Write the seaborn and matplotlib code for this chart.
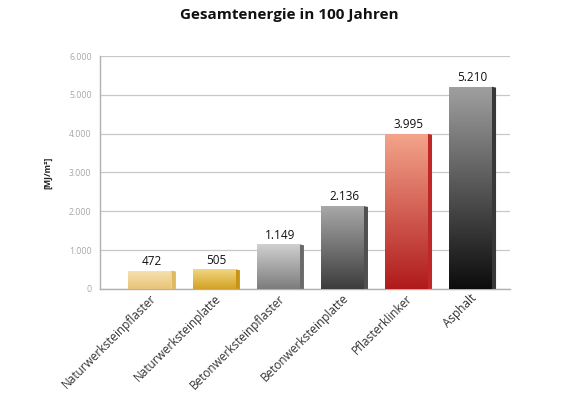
import numpy as np
import pandas as pd
import matplotlib
matplotlib.use("Agg")
import matplotlib.pyplot as plt
import matplotlib.colors as mcolors
from matplotlib.patches import Polygon
import seaborn as sns

categories = ["Naturwerksteinpflaster", "Naturwerksteinplatte", "Betonwerksteinpflaster",
              "Betonwerksteinplatte", "Pflasterklinker", "Asphalt"]
values = [472, 505, 1149, 2136, 3995, 5210]
value_labels = ["472", "505", "1.149", "2.136", "3.995", "5.210"]
y_ticks = [0, 1000, 2000, 3000, 4000, 5000, 6000]
y_tick_labels = ["0", "1.000", "2.000", "3.000", "4.000", "5.000", "6.000"]
top_colors = ["#f7e2b0", "#f2d680", "#d0d0d0", "#a8a8a8", "#f4a58c", "#a0a0a0"]
bottom_colors = ["#e8c378", "#d2a224", "#7c7c7c", "#3c3c3c", "#b01a1a", "#0c0c0c"]
side_colors = ["#e0b860", "#c89418", "#6a6a6a", "#505050", "#c02828", "#383838"]

sns.set_theme(style="white")
plt.rcParams["font.family"] = ["Open Sans", "DejaVu Sans"]

fig = plt.figure(figsize=(5.78, 4.03), dpi=100)
ax = fig.add_axes([0.173, 0.283, 0.709, 0.578])

df = pd.DataFrame({"cat": categories, "val": values})
sns.barplot(data=df, x="cat", y="val", ax=ax, width=0.67, color="white",
            edgecolor="none", zorder=3)

ax.set_ylim(0, 6000)
ax.set_xlim(-0.78, 5.62)

# convert ~4 px side depth to data units
px_x = (5.62 + 0.78) / (0.709 * 578)
px_y = 6000 / (0.578 * 403)
dx = 4.5 * px_x
dy = 3 * px_y

for i, p in enumerate(ax.patches):
    x0 = p.get_x()
    w = p.get_width()
    h = p.get_height()
    side = Polygon([[x0 + w, 0], [x0 + w + dx, 0], [x0 + w + dx, h - dy * 0.3],
                    [x0 + w, h]], closed=True, facecolor=side_colors[i],
                   edgecolor="none", zorder=2.9)
    ax.add_patch(side)
    cmap = mcolors.LinearSegmentedColormap.from_list(
        f"g{i}", [bottom_colors[i], top_colors[i]])
    grad = np.linspace(0, 1, 256).reshape(-1, 1)
    im = ax.imshow(grad, cmap=cmap, aspect="auto", origin="lower",
                   extent=[x0, x0 + w, 0, h], zorder=3.5, interpolation="bilinear")
    im.set_clip_path(p)
    ax.text(x0 + w / 2 + dx / 2, h + 70, value_labels[i], ha="center", va="bottom",
            fontsize=8.5, color="#111111", zorder=5)

ax.set_xlim(-0.78, 5.62)
ax.set_ylim(0, 6000)
ax.set_yticks(y_ticks)
ax.set_yticklabels(y_tick_labels, fontsize=6.3, color="#a8a8a8")
ax.tick_params(axis="y", length=0, pad=6)
ax.tick_params(axis="x", length=0, pad=2)
ax.set_xticks(range(len(categories)))
ax.set_xticklabels(categories, rotation=45, ha="right", rotation_mode="anchor",
                   fontsize=8.5, color="#333333")

ax.grid(axis="y", color="#c8c8c8", linewidth=0.9, zorder=0)
ax.set_axisbelow(True)
for s in ["top", "right"]:
    ax.spines[s].set_visible(False)
ax.spines["left"].set_color("#b0b0b0")
ax.spines["bottom"].set_color("#b0b0b0")
ax.spines["left"].set_linewidth(1.0)
ax.spines["bottom"].set_linewidth(1.0)

ax.set_xlabel("")
ax.set_ylabel("[MJ/m²]", fontsize=6.3, fontweight="bold", color="#222222", labelpad=12)

fig.text(0.5, 0.962, "Gesamtenergie in 100 Jahren", ha="center", va="center",
         fontsize=11, fontweight="bold", color="#111111")

fig.savefig("out.png", dpi=100)
